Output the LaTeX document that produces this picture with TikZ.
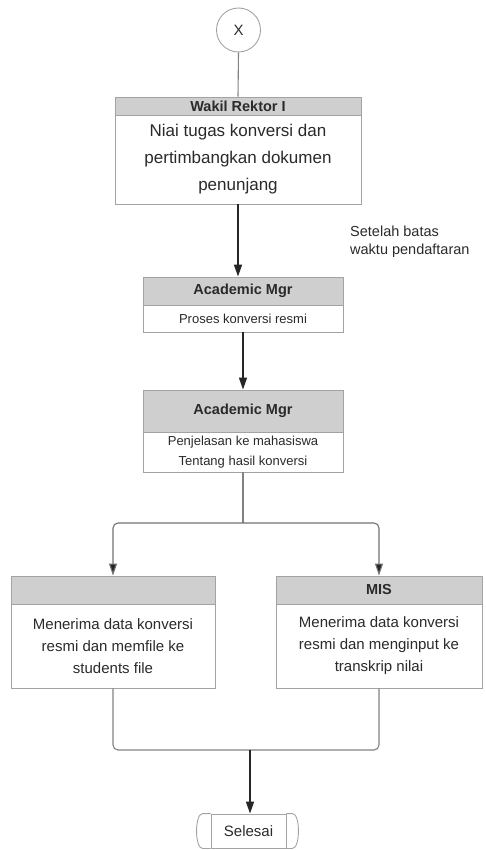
\documentclass[tikz,border=0pt]{standalone}
\usepackage{fontspec}
\setmainfont{Liberation Sans}
\usetikzlibrary{arrows.meta}
\definecolor{edgegray}{HTML}{A3A3A3}
\definecolor{headgray}{HTML}{CFCFCF}
\definecolor{txt}{HTML}{2A2A2A}
\tikzset{
  hdr/.style={draw=edgegray, fill=headgray, line width=0.9pt, inner sep=0pt, text=txt,
    font=\fontsize{14.5}{16}\selectfont\bfseries},
  bdy/.style={draw=edgegray, fill=white, line width=0.9pt, inner sep=0pt, text=txt, align=center},
  thinline/.style={draw=edgegray!80!black, line width=1.1pt},
  darkarrow/.style={draw=black!85, line width=1.5pt, -{Triangle[width=8pt,length=12pt]}},
  grayarrow/.style={draw=edgegray!70!black, line width=1.1pt, rounded corners=5pt, -{Triangle[width=8pt,length=12pt,fill=black!85]}},
}
\begin{document}
\begin{tikzpicture}[x=1pt,y=-1pt]
\useasboundingbox (0,0) rectangle (485,850);
% start connector
\node[circle, draw=edgegray, line width=0.9pt, minimum size=44pt, inner sep=0pt, text=txt,
  font=\fontsize{15}{16}\selectfont] (X) at (238.5,30) {X};
% Wakil Rektor I
\node[hdr, minimum width=246pt, minimum height=18pt] (wrh) at (238,106) {Wakil Rektor I};
\node[bdy, minimum width=246pt, minimum height=89pt, font=\fontsize{17}{27}\selectfont] (wrb) at (238,159.5)
  {Niai tugas konversi dan\\pertimbangkan dokumen\\penunjang};
% Academic Mgr 1
\node[hdr, minimum width=200pt, minimum height=28pt] (a1h) at (243,291) {Academic Mgr};
\node[bdy, minimum width=200pt, minimum height=27pt, font=\fontsize{13}{20}\selectfont] (a1b) at (243,318.5)
  {Proses konversi resmi};
% Academic Mgr 2
\node[hdr, minimum width=200pt, minimum height=42pt] (a2h) at (243,411) {Academic Mgr};
\node[bdy, minimum width=200pt, minimum height=40pt, font=\fontsize{13}{20}\selectfont] (a2b) at (243,452)
  {Penjelasan ke mahasiswa\\Tentang hasil konversi};
% left box
\node[hdr, minimum width=204pt, minimum height=28pt] (lh) at (113,590) {};
\node[bdy, minimum width=204pt, minimum height=84pt, font=\fontsize{15}{22}\selectfont] (lb) at (113,646)
  {Menerima data konversi\\resmi dan memfile ke\\students file};
% right box
\node[hdr, minimum width=206pt, minimum height=28pt] (rh) at (379,590) {MIS};
\node[bdy, minimum width=206pt, minimum height=84pt, font=\fontsize{15}{22}\selectfont] (rb) at (379,646)
  {Menerima data konversi\\resmi dan menginput ke\\transkrip nilai};
% note
\node[anchor=west, align=left, inner sep=0pt, text=txt, font=\fontsize{14.5}{18}\selectfont] (note) at (350,242)
  {Setelah batas\\waktu pendaftaran};
% terminator
\node[draw=edgegray, line width=0.9pt, minimum width=75pt, minimum height=34pt, inner sep=0pt, text=txt,
  font=\fontsize{15}{16}\selectfont] (sel) at (248.5,831) {Selesai};
\draw[draw=edgegray, line width=0.9pt]
  ([xshift=-8pt]sel.north west) -- (sel.north west)
  ([xshift=-8pt]sel.south west) -- (sel.south west)
  ([xshift=-8pt]sel.north west) .. controls ([xshift=-16pt]sel.north west) and ([xshift=-16pt]sel.south west) .. ([xshift=-8pt]sel.south west)
  ([xshift=6pt]sel.north east) -- (sel.north east)
  ([xshift=6pt]sel.south east) -- (sel.south east)
  ([xshift=6pt]sel.north east) .. controls ([xshift=14pt]sel.north east) and ([xshift=14pt]sel.south east) .. ([xshift=6pt]sel.south east);
% connectors
\coordinate (j) at (243,523);
\coordinate (m) at (250,750);
\draw[thinline] (X.south) -- (wrh.north);
\draw[darkarrow] (wrb.south) -- (wrb.south |- a1h.north);
\draw[darkarrow] (a1b.south) -- (a2h.north);
\draw[thinline] (a2b.south) -- (j);
\draw[grayarrow] (j) -| (lh.north);
\draw[grayarrow] (j) -| (rh.north);
\draw[thinline, rounded corners=5pt] (lb.south) |- (m) -| (rb.south);
\draw[darkarrow] (m) -- (m |- sel.north);
\end{tikzpicture}
\end{document}
